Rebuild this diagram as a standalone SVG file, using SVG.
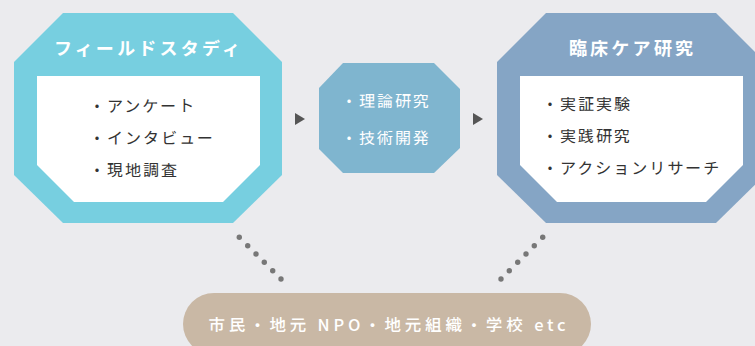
<svg xmlns="http://www.w3.org/2000/svg" width="755" height="346" viewBox="0 0 755 346">
<style>
text{font-family:"Noto Sans JP","Noto Sans CJK JP",sans-serif}
.title{font-size:18px;font-weight:bold;fill:#fff;letter-spacing:3.2px;text-anchor:middle}
.item{font-size:16px;fill:#333;letter-spacing:2px}
.mid{font-size:16px;fill:#fff;letter-spacing:2px}
.inner{fill:#fff}
.dot{fill:#777}
.arrow{fill:#555}
.pilltext{font-size:16.5px;font-weight:500;fill:#fff;letter-spacing:3.8px;text-anchor:middle}
</style>
<rect width="755" height="346" fill="#ebebee"/>
<g id="field-study">
<polygon points="63,13 233,13 282,62 282,175 233,223 63,223 14,175 14,62" fill="#77cfe0"/>
<polygon class="inner" points="37,76 260,76 260,165 223,202 74,202 37,165"/>
<text class="title" x="148.5" y="55">フィールドスタディ</text>
<text class="item" x="89" y="112">・アンケート</text>
<text class="item" x="89" y="144">・インタビュー</text>
<text class="item" x="89" y="176">・現地調査</text>
</g>
<g id="theory">
<polygon points="343,63 434,63 460,89 460,148 434,173 343,173 319,149 319,88" fill="#7fb5cf"/>
<text class="mid" x="341" y="107">・理論研究</text>
<text class="mid" x="341" y="144">・技術開発</text>
</g>
<g id="clinical">
<polygon points="546,13 716,13 765,62 765,175 716,223 546,223 497,175 497,62" fill="#85a5c5"/>
<polygon class="inner" points="520,76 743,76 743,165 706,202 557,202 520,165"/>
<text class="title" x="632.5" y="55">臨床ケア研究</text>
<text class="item" x="542" y="110">・実証実験</text>
<text class="item" x="542" y="142">・実践研究</text>
<text class="item" x="542" y="174">・アクションリサーチ</text>
</g>
<g id="stakeholders">
<rect x="183" y="293" width="408" height="62" rx="31" fill="#c9b8a5"/>
<text class="pilltext" x="389" y="331">市民・地元 NPO・地元組織・学校 etc</text>
</g>
<g id="connectors">
<polygon class="arrow" points="295,113 305,119 295,125"/>
<polygon class="arrow" points="473,113 483,119 473,125"/>
<circle class="dot" cx="239.3" cy="237.3" r="2.7"/>
<circle class="dot" cx="247.7" cy="245.7" r="2.7"/>
<circle class="dot" cx="256" cy="254" r="2.7"/>
<circle class="dot" cx="264.3" cy="262.3" r="2.7"/>
<circle class="dot" cx="272.7" cy="270.7" r="2.7"/>
<circle class="dot" cx="281" cy="279" r="2.7"/>
<circle class="dot" cx="542.7" cy="237.3" r="2.7"/>
<circle class="dot" cx="534.3" cy="245.7" r="2.7"/>
<circle class="dot" cx="526" cy="254" r="2.7"/>
<circle class="dot" cx="517.7" cy="262.3" r="2.7"/>
<circle class="dot" cx="509.3" cy="270.7" r="2.7"/>
<circle class="dot" cx="501" cy="279" r="2.7"/>
</g>
</svg>
